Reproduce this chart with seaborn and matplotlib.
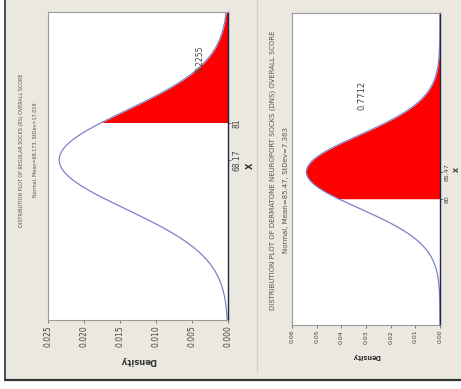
import numpy as np
import matplotlib
matplotlib.use("Agg")
import matplotlib.pyplot as plt
import seaborn as sns
from matplotlib.lines import Line2D
from matplotlib.patches import Rectangle

# two Minitab style shaded-area plots, picture is turned 90 degrees
titles = ["DISTRIBUTION PLOT OF REGULAR SOCKS (RS) OVERALL SCORE",
          "DISTRIBUTION PLOT OF DERMATONE NEUROPORT SOCKS (DNS) OVERALL SCORE"]
subtitles = ["Normal, Mean=68.173, StDev=17.019",
             "Normal, Mean=85.47, StDev=7.363"]
means = [68.173, 85.47]
sds = [17.019, 7.363]
cutoffs = [81, 80]
area_labels = ["0.2255", "0.7712"]
tick_labels = [["68.17", "81"], ["80", "85.47"]]
# x range shown, in standard deviations below / above the mean
spans = [(3.26, 3.01), (4.2, 4.35)]
density_ticks = [[0.000, 0.005, 0.010, 0.015, 0.020, 0.025],
                 [0.00, 0.01, 0.02, 0.03, 0.04, 0.05, 0.06]]
density_fmt = ["{:.3f}", "{:.2f}"]
density_max = [0.025, 0.06]

sns.set_theme(style="white")
plt.rcParams['font.family'] = ['DejaVu Sans']

bg = "#ebe8e0"
W, H = 461, 389
fig = plt.figure(figsize=(4.61, 3.89), dpi=100, facecolor="white")

# beige window behind both plots, dark frame lines
fig.add_artist(Rectangle((5 / W, 1 - 380 / H), 456 / W, 380 / H, transform=fig.transFigure,
                         facecolor=bg, edgecolor="none", zorder=-5))
fig.add_artist(Line2D([5 / W, 5 / W], [1, 1 - 380 / H], transform=fig.transFigure,
                      color="#333333", lw=1.2))
fig.add_artist(Line2D([5 / W, 1], [1 - 380 / H, 1 - 380 / H], transform=fig.transFigure,
                      color="#333333", lw=1.6))
fig.add_artist(Line2D([257 / W, 257 / W], [1, 1 - 372 / H], transform=fig.transFigure,
                      color="#d2cfc6", lw=1.0))

boxes = [(48, 12, 228, 320), (292, 13, 440, 325)]
title_x = [(22, 35), (273, 286)]
title_cy = [(150, 150), (170, 190)]
title_fs = [3.5, 5.0]
tick_fs = [5.5, 4.5]
lab_fs = [6, 4.8]
area_fs = [5.5, 6]
area_pos = [(200, 59), (362, 95)]

for i in range(2):
    l, t, r, b = boxes[i]
    ax = fig.add_axes([l / W, 1 - b / H, (r - l) / W, (b - t) / H])
    ax.set_facecolor("white")
    m, s, c = means[i], sds[i], cutoffs[i]
    lo, hi = m - spans[i][0] * s, m + spans[i][1] * s
    xs = np.linspace(lo, hi, 500)
    dens = np.exp(-0.5 * ((xs - m) / s) ** 2) / (s * np.sqrt(2 * np.pi))
    tail = xs >= c
    ax.fill_betweenx(xs[tail], 0, dens[tail], color="#ff0000", lw=0)
    sns.lineplot(x=dens, y=xs, sort=False, ax=ax, color="#7c80c6", lw=0.9)
    ax.set_xlim(density_max[i], 0)
    ax.set_ylim(lo, hi)
    ax.set_xticks(density_ticks[i])
    ax.set_xticklabels([density_fmt[i].format(v) for v in density_ticks[i]],
                       rotation=90, fontsize=tick_fs[i], color="#444444")
    ax.yaxis.tick_right()
    ax.yaxis.set_label_position("right")
    ax.set_yticks(sorted([m, c]))
    ax.set_yticklabels(tick_labels[i], rotation=90, fontsize=tick_fs[i], va="center",
                       color="#444444")
    ax.tick_params(axis="both", length=2, width=0.6, pad=1.5, color="#666666",
                   bottom=True, right=True)
    ax.set_xlabel("Density", rotation=180, fontsize=lab_fs[i], labelpad=7,
                  color="#333333", fontweight="bold")
    ax.set_ylabel("X", rotation=90, fontsize=lab_fs[i], labelpad=3, color="#333333",
                  fontweight="bold")
    for sp in ax.spines.values():
        sp.set_color("#9a9a9a")
        sp.set_linewidth(0.8)
    ax.spines["right"].set_color("#22224a")
    ax.spines["right"].set_linewidth(1.0)
    # area value next to the shaded tail
    fig.text(area_pos[i][0] / W, 1 - area_pos[i][1] / H, area_labels[i], rotation=90,
             fontsize=area_fs[i], ha="center", va="center", color="#444444")
    fig.text(title_x[i][0] / W, 1 - title_cy[i][0] / H, titles[i], rotation=90,
             fontsize=title_fs[i], ha="center", va="center", color="#555555")
    fig.text(title_x[i][1] / W, 1 - title_cy[i][1] / H, subtitles[i], rotation=90,
             fontsize=title_fs[i], ha="center", va="center", color="#555555")

fig.savefig("out.png", dpi=100, facecolor="white")
